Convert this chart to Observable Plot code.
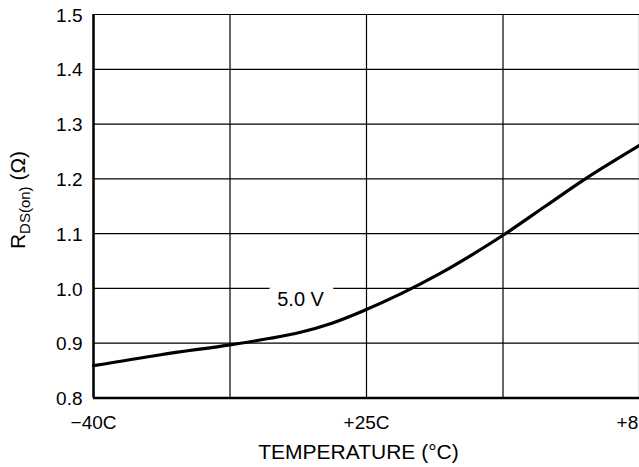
<!DOCTYPE html>
<html><head><meta charset="utf-8">
<script src="https://cdn.jsdelivr.net/npm/d3@7"></script>
<script src="https://cdn.jsdelivr.net/npm/@observablehq/plot@0.6"></script>
<style>
html,body{margin:0;padding:0;background:#fff;overflow:hidden}
</style></head><body><div id="chart"></div>
<script>
// Data
const temps = [-40, -24, -7.5, 2.1, 9.3, 16.4, 23.6, 32.5, 41.3, 47.9, 55, 64.3, 73.1, 85];
const rdson = [0.859, 0.879, 0.897, 0.909, 0.920, 0.9355, 0.957, 0.990, 1.028, 1.060, 1.097, 1.150, 1.200, 1.261];
const xGrid = [-40, -7.5, 25, 55, 85];
const xTickLabels = ["\u221240C", "", "+25C", "", "+85C"];
const yTicks = [0.8, 0.9, 1.0, 1.1, 1.2, 1.3, 1.4, 1.5];
const seriesLabels = [{temp: 9.3, r: 0.980, text: "5.0 V"}];
const xTitle = "TEMPERATURE (\u00B0C)";

const data = temps.map((t, i) => ({temp: t, r: rdson[i]}));
const xTicks = xGrid.map((v, i) => ({v, label: xTickLabels[i]})).filter(d => d.label);

const font = "'Liberation Sans', Arial, Helvetica, sans-serif";

const chart = Plot.plot({
  width: 639,
  height: 467,
  marginLeft: 93,
  marginRight: 0,
  marginTop: 14,
  marginBottom: 69.5,
  style: {fontFamily: font, fontSize: "19px", background: "white", color: "black"},
  x: {type: "linear", domain: [-40, 25, 85], axis: null},
  y: {domain: [0.8, 1.5], axis: null},
  marks: [
    Plot.ruleY(yTicks, {stroke: "black", strokeWidth: 1.2}),
    Plot.ruleX(xGrid, {stroke: "black", strokeWidth: 1.2}),
    Plot.text(seriesLabels, {x: "temp", y: "r", text: "text", fill: "black", stroke: "white", strokeWidth: 20, fontSize: 20}),
    Plot.line(data, {x: "temp", y: "r", stroke: "black", strokeWidth: 3.2, curve: "catmull-rom"}),
    Plot.ruleX([xGrid[0]], {stroke: "black", strokeWidth: 2.5}),
    Plot.ruleY([yTicks[0]], {stroke: "black", strokeWidth: 2.5}),
    Plot.text(yTicks, {y: d => d, frameAnchor: "left", dx: -11, dy: 1, textAnchor: "end", text: d => d.toFixed(1), fill: "black", fontSize: 19}),
    Plot.text(xTicks, {x: "v", frameAnchor: "bottom", dy: 31, text: "label", fill: "black", fontSize: 19}),
    Plot.text([xTitle], {frameAnchor: "bottom", dx: -8, dy: 61, text: d => d, fill: "black", fontSize: 21})
  ]
});

// y-axis title with subscript
const svg = d3.select(chart.tagName.toLowerCase() === "svg" ? chart : chart.querySelector("svg"));
const t = svg.append("text")
  .attr("transform", "translate(25,200) rotate(-90)")
  .attr("text-anchor", "middle")
  .attr("fill", "black")
  .style("font-family", font)
  .style("font-size", "21px");
t.append("tspan").text("R");
t.append("tspan").attr("dy", 5).style("font-size", "15px").text("DS(on)");
t.append("tspan").attr("dy", -5).text(" (\u03A9)");

document.getElementById("chart").appendChild(chart);
</script>
</body></html>
